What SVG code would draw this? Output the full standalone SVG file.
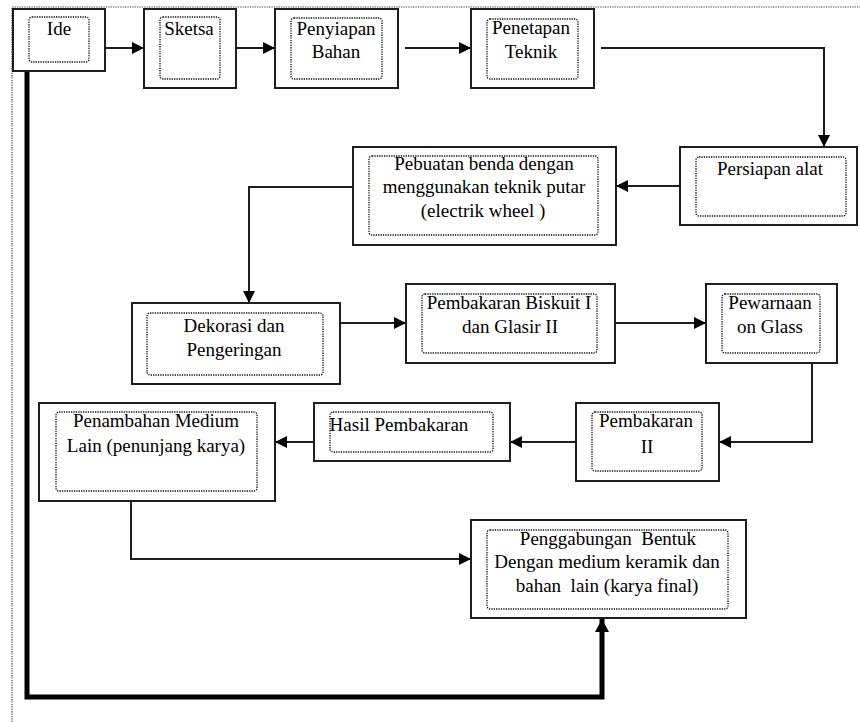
<svg xmlns="http://www.w3.org/2000/svg" width="860" height="722" viewBox="0 0 860 722">
<defs>
<style>
.box{fill:#fff;stroke:#1e1e1e;stroke-width:2}
.inner{fill:none;stroke:#111;stroke-width:1.3;stroke-dasharray:1.3 1.1}
.frame{fill:none;stroke:#444;stroke-width:1.2;stroke-dasharray:1.3 1.1}
.t{font-family:"Liberation Serif","Times New Roman",serif;font-size:19px;fill:#000;text-anchor:middle;white-space:pre}
.c{fill:none;stroke:#1e1e1e;stroke-width:2}
.thick{fill:none;stroke:#000;stroke-width:5}
</style>
<marker id="ah" markerUnits="userSpaceOnUse" markerWidth="13" markerHeight="12" refX="12" refY="6" orient="auto">
<path d="M0,0 L12,6 L0,12 z" fill="#000"/>
</marker>
<marker id="ahb" markerUnits="userSpaceOnUse" markerWidth="14" markerHeight="14" refX="13" refY="7" orient="auto">
<path d="M0,0 L13,7 L0,14 z" fill="#000"/>
</marker>
</defs>
<rect width="860" height="722" fill="#fff"/>
<path class="frame" d="M12,722 L12,7 L860,7"/>

<g id="connectors">
<path class="c" d="M105,48 L144,48" marker-end="url(#ah)"/>
<path class="c" d="M236,48 L275,48" marker-end="url(#ah)"/>
<path class="c" d="M405,48 L471,48" marker-end="url(#ah)"/>
<path class="c" d="M601,48 L824,48 L824,147" marker-end="url(#ah)"/>
<path class="c" d="M680,186 L616,186" marker-end="url(#ah)"/>
<path class="c" d="M353,187 L249,187 L249,303" marker-end="url(#ah)"/>
<path class="c" d="M340,323 L406,323" marker-end="url(#ah)"/>
<path class="c" d="M615,323 L706,323" marker-end="url(#ah)"/>
<path class="c" d="M812,363 L812,442 L719,442" marker-end="url(#ah)"/>
<path class="c" d="M576,442 L510,442" marker-end="url(#ah)"/>
<path class="c" d="M314,442 L275,442" marker-end="url(#ah)"/>
<path class="c" d="M131,501 L131,559 L471,559" marker-end="url(#ah)"/>
<path class="thick" d="M27,71 L27,697 L602,697 L602,619" marker-end="url(#ahb)"/>
</g>

<g id="ide">
<rect class="box" x="13" y="9" width="92" height="62"/>
<rect class="inner" x="29" y="17" width="60" height="45" rx="3"/>
<text class="t" x="59" y="35">Ide</text>
</g>
<g id="sketsa">
<rect class="box" x="144" y="9" width="92" height="79"/>
<rect class="inner" x="160" y="17" width="60" height="62" rx="3"/>
<text class="t" x="189" y="35">Sketsa</text>
</g>
<g id="penyiapan">
<rect class="box" x="275" y="9" width="123" height="79"/>
<rect class="inner" x="291" y="18" width="91" height="61" rx="3"/>
<text class="t" x="336" y="35">Penyiapan</text>
<text class="t" x="336" y="58">Bahan</text>
</g>
<g id="penetapan">
<rect class="box" x="471" y="9" width="123" height="79"/>
<rect class="inner" x="487" y="19" width="91" height="60" rx="3"/>
<text class="t" x="531" y="34">Penetapan</text>
<text class="t" x="531" y="58">Teknik</text>
</g>
<g id="persiapan">
<rect class="box" x="680" y="147" width="177" height="78"/>
<rect class="inner" x="696" y="157" width="150" height="59" rx="3"/>
<text class="t" x="770" y="175">Persiapan alat</text>
</g>
<g id="pebuatan">
<rect class="box" x="353" y="147" width="263" height="98"/>
<rect class="inner" x="369" y="156" width="229" height="79" rx="3"/>
<text class="t" x="484" y="170">Pebuatan benda dengan</text>
<text class="t" x="484" y="193">menggunakan teknik putar</text>
<text class="t" x="483" y="217">(electrik wheel )</text>
</g>
<g id="dekorasi">
<rect class="box" x="132" y="303" width="208" height="81"/>
<rect class="inner" x="147" y="313" width="176" height="62" rx="3"/>
<text class="t" x="234" y="332">Dekorasi dan</text>
<text class="t" x="234" y="356">Pengeringan</text>
</g>
<g id="biskuit">
<rect class="box" x="406" y="284" width="209" height="79"/>
<rect class="inner" x="422" y="294" width="175" height="59" rx="3"/>
<text class="t" x="509" y="309">Pembakaran Biskuit I</text>
<text class="t" x="510" y="333">dan Glasir II</text>
</g>
<g id="pewarnaan">
<rect class="box" x="706" y="284" width="131" height="79"/>
<rect class="inner" x="722" y="294" width="98" height="59" rx="3"/>
<text class="t" x="770" y="309">Pewarnaan</text>
<text class="t" x="770" y="333">on Glass</text>
</g>
<g id="pembakaran2">
<rect class="box" x="576" y="403" width="143" height="78"/>
<rect class="inner" x="592" y="412" width="110" height="59" rx="3"/>
<text class="t" x="646" y="427">Pembakaran</text>
<text class="t" x="647" y="453">II</text>
</g>
<g id="hasil">
<rect class="box" x="314" y="403" width="196" height="58"/>
<rect class="inner" x="330" y="412" width="163" height="40" rx="3"/>
<text class="t" x="399" y="431">Hasil Pembakaran</text>
</g>
<g id="penambahan">
<rect class="box" x="39" y="403" width="236" height="98"/>
<rect class="inner" x="56" y="412" width="201" height="79" rx="3"/>
<text class="t" x="156" y="427">Penambahan Medium</text>
<text class="t" x="156" y="452">Lain (penunjang karya)</text>
</g>
<g id="penggabungan">
<rect class="box" x="471" y="520" width="275" height="98"/>
<rect class="inner" x="487" y="530" width="241" height="79" rx="3"/>
<text class="t" x="608" y="545">Penggabungan  Bentuk</text>
<text class="t" x="607" y="568">Dengan medium keramik dan</text>
<text class="t" x="607" y="592">bahan  lain (karya final)</text>
</g>
</svg>
